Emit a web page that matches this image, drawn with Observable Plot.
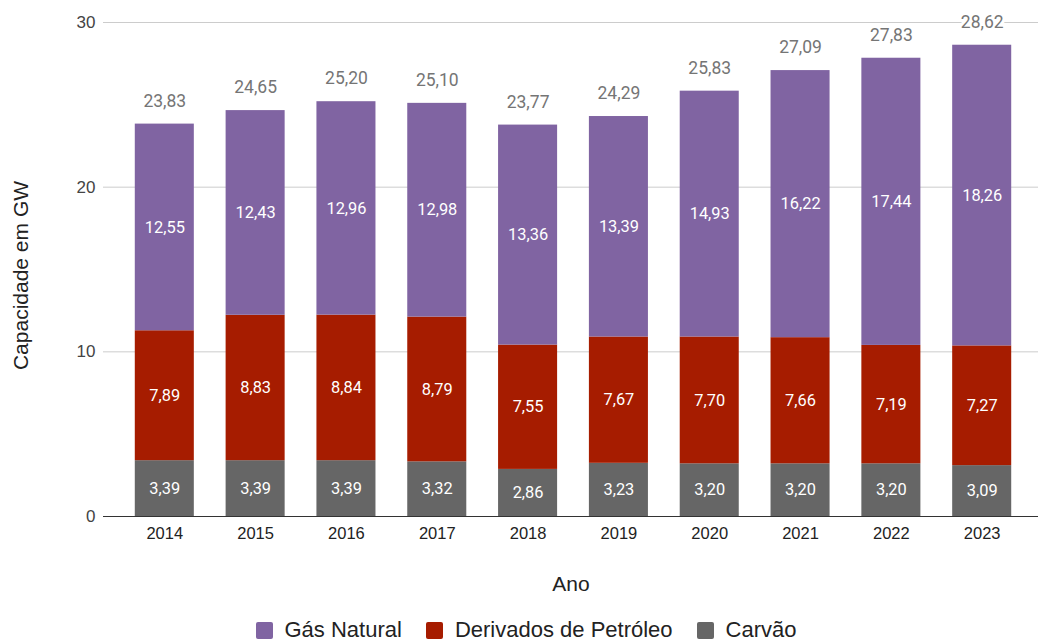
<!DOCTYPE html>
<html>
<head>
<meta charset="utf-8">
<script src="https://cdn.jsdelivr.net/npm/d3@7"></script>
<script src="https://cdn.jsdelivr.net/npm/@observablehq/plot@0.6"></script>
<style>
  body { margin: 0; background: #fff; font-family: "Liberation Sans", Arial, sans-serif; }
  #chart svg { display: block; overflow: hidden; }
  #legend { display: flex; justify-content: center; align-items: center; padding-top: 19px; height: 22px; font-size: 22px; color: #222; padding-left: 14px; }
  .item { display: flex; align-items: center; margin: 0 12px; }
  .sw { width: 17px; height: 17px; border-radius: 2px; margin-right: 12px; }
</style>
</head>
<body>
<div id="chart"></div>
<div id="legend"></div>
<script>
const years = ["2014","2015","2016","2017","2018","2019","2020","2021","2022","2023"];
const series = ["Carvão", "Derivados de Petróleo", "Gás Natural"];
const carvao = [3.39, 3.39, 3.39, 3.32, 2.86, 3.23, 3.20, 3.20, 3.20, 3.09];
const derivados = [7.89, 8.83, 8.84, 8.79, 7.55, 7.67, 7.70, 7.66, 7.19, 7.27];
const gas = [12.55, 12.43, 12.96, 12.98, 13.36, 13.39, 14.93, 16.22, 17.44, 18.26];
const totals = [23.83, 24.65, 25.20, 25.10, 23.77, 24.29, 25.83, 27.09, 27.83, 28.62];
const yTicks = [0, 10, 20, 30];
const colors = ["#666666", "#A61C00", "#8064A2"];
const legendOrder = ["Gás Natural", "Derivados de Petróleo", "Carvão"];

const valuesBySeries = [carvao, derivados, gas];
const data = [];
series.forEach((s, i) => years.forEach((y, j) => data.push({year: y, series: s, value: valuesBySeries[i][j]})));
const totalData = years.map((y, j) => ({year: y, total: totals[j]}));
const fmt = v => v.toFixed(2).replace(".", ",");
const sans = "'Liberation Sans', Arial, sans-serif";
const roboto = "Roboto, 'Noto Sans', sans-serif";

const chart = Plot.plot({
  width: 1038,
  height: 600,
  marginTop: 22,
  marginBottom: 84,
  marginLeft: 103,
  marginRight: 0,
  style: {fontFamily: sans, fontSize: "16.5px", color: "#444", background: "#fff"},
  x: {domain: years, padding: 0.35, range: [103, 1043], round: false, label: null},
  y: {domain: [0, 30], label: null},
  color: {domain: series, range: colors},
  marks: [
    Plot.ruleY(yTicks.filter(d => d > 0), {stroke: "#cccccc", strokeWidth: 1}),
    Plot.barY(data, Plot.stackY({x: "year", y: "value", fill: "series", z: "series", order: series})),
    Plot.ruleY([0], {stroke: "#333", strokeWidth: 1.2}),
    Plot.text(data, Plot.stackY({x: "year", y: "value", z: "series", text: d => fmt(d.value), order: series, fill: "#fff", fontSize: 16.4, fontFamily: roboto})),
    Plot.text(totalData, {x: "year", y: "total", text: d => fmt(d.total), dy: -23, fill: "#757575", stroke: "#fff", strokeWidth: 6, paintOrder: "stroke", fontSize: 17.5, fontFamily: roboto}),
    Plot.axisY({ticks: yTicks, tickSize: 0, tickPadding: 8, tickFormat: d => String(d), fill: "#444", fontSize: 17, label: null}),
    Plot.axisX({tickSize: 0, tickPadding: 11, fill: "#222", label: null}),
    Plot.text(["Capacidade em GW"], {frameAnchor: "left", textAnchor: "middle", lineAnchor: "middle", dx: -82, dy: 6, rotate: -90, fontSize: 21, fill: "#222"}),
    Plot.text(["Ano"], {frameAnchor: "bottom", textAnchor: "middle", lineAnchor: "middle", dx: 0, dy: 68, fontSize: 21, fill: "#222"})
  ]
});
document.getElementById("chart").appendChild(chart);

const legend = document.getElementById("legend");
legendOrder.forEach(name => {
  const item = document.createElement("div");
  item.className = "item";
  const sw = document.createElement("div");
  sw.className = "sw";
  sw.style.background = colors[series.indexOf(name)];
  const label = document.createElement("span");
  label.textContent = name;
  item.appendChild(sw);
  item.appendChild(label);
  legend.appendChild(item);
});
</script>
</body>
</html>
